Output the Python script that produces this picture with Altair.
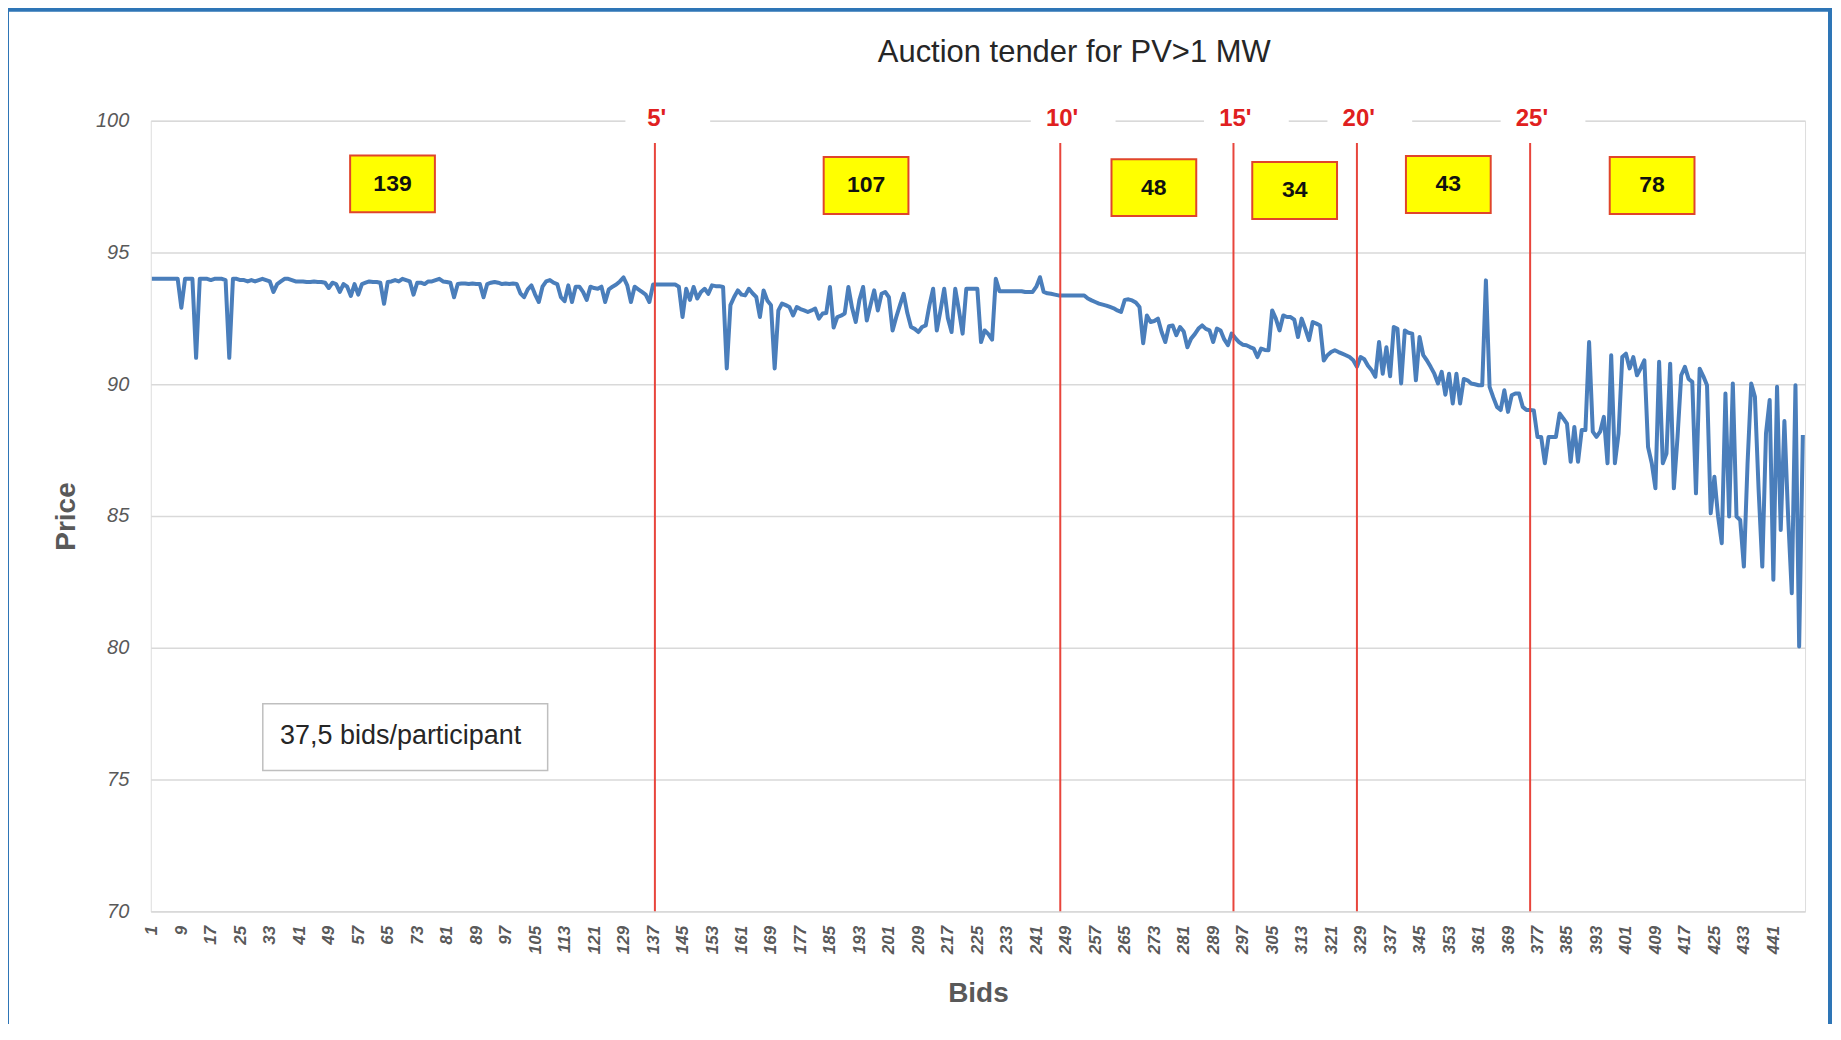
import altair as alt
import pandas as pd

# ---------------- data ----------------
prices_1 = [  # bids 1-112
    94.0, 94.0, 94.0, 94.0, 94.0, 94.0, 94.0, 94.0, 92.9, 94.0,
    94.0, 94.0, 91.0, 94.0, 94.0, 94.0, 93.95, 94.0, 94.0, 94.0,
    93.95, 91.0, 94.0, 94.0, 93.95, 93.95, 93.9, 93.95, 93.9, 93.95,
    94.0, 93.95, 93.9, 93.5, 93.8, 93.9, 94.0, 94.0, 93.95, 93.9,
    93.9, 93.9, 93.88, 93.88, 93.9, 93.88, 93.88, 93.85, 93.65, 93.85,
    93.8, 93.5, 93.8, 93.7, 93.35, 93.8, 93.4, 93.8, 93.85, 93.9,
    93.88, 93.88, 93.85, 93.05, 93.88, 93.9, 93.95, 93.9, 94.0, 93.95,
    93.9, 93.4, 93.85, 93.85, 93.8, 93.9, 93.9, 93.95, 94.0, 93.9,
    93.88, 93.85, 93.3, 93.8, 93.82, 93.82, 93.8, 93.82, 93.8, 93.8,
    93.3, 93.8, 93.85, 93.88, 93.85, 93.8, 93.82, 93.8, 93.82, 93.8,
    93.45, 93.3, 93.6, 93.75, 93.4, 93.12, 93.7, 93.9, 93.95, 93.85,
    93.8, 93.3,
]
prices_2 = [  # bids 113-224
    93.15, 93.75, 93.12, 93.7, 93.7, 93.5, 93.2, 93.7,
    93.65, 93.62, 93.7, 93.12, 93.6, 93.7, 93.78, 93.9, 94.05, 93.75,
    93.12, 93.7, 93.6, 93.5, 93.4, 93.12, 93.78, 93.78, 93.78, 93.78,
    93.78, 93.78, 93.78, 93.7, 92.55, 93.62, 93.2, 93.69, 93.25, 93.5,
    93.62, 93.43, 93.75, 93.72, 93.72, 93.69, 90.6, 93.0, 93.31, 93.56,
    93.4, 93.37, 93.62, 93.45, 93.31, 92.55, 93.56, 93.18, 93.0, 90.6,
    92.8, 93.06, 93.0, 92.93, 92.61, 92.93, 92.85, 92.8, 92.74, 92.8,
    92.87, 92.49, 92.68, 92.7, 93.69, 92.15, 92.55, 92.6, 92.68, 93.69,
    92.9, 92.36, 93.2, 93.69, 92.42, 93.0, 93.56, 92.8, 93.43, 93.5,
    93.3, 92.04, 92.55, 93.0, 93.43, 92.7, 92.17, 92.1, 91.98, 92.17,
    92.23, 93.0, 93.62, 92.04, 92.8, 93.62, 92.5, 91.98, 93.62, 92.8,
    91.92, 93.62, 93.62, 93.62,
]
prices_3 = [  # bids 225-334
    93.62, 91.6, 92.04, 91.9, 91.69, 94.0,
    93.53, 93.53, 93.53, 93.53, 93.53, 93.53, 93.53, 93.5, 93.5, 93.5,
    93.7, 94.06, 93.5, 93.45, 93.43, 93.4, 93.37, 93.37, 93.37, 93.37,
    93.37, 93.37, 93.37, 93.37, 93.25, 93.18, 93.12, 93.06, 93.02, 92.98,
    92.93, 92.88, 92.8, 92.74, 93.2, 93.22, 93.18, 93.1, 92.93, 91.55,
    92.61, 92.36, 92.4, 92.49, 91.98, 91.6, 92.2, 92.23, 91.86, 92.17,
    92.0, 91.4, 91.73, 91.9, 92.11, 92.23, 92.1, 92.04, 91.6, 92.11,
    92.04, 91.7, 91.48, 91.92, 91.75, 91.6, 91.5, 91.48, 91.41, 91.35,
    91.03, 91.35, 91.3, 91.29, 92.8, 92.49, 92.04, 92.61, 92.55, 92.55,
    92.45, 91.79, 92.49, 92.1, 91.67, 92.36, 92.3, 92.23, 90.9, 91.1,
    91.22, 91.29, 91.22, 91.16, 91.1, 91.03, 90.91, 90.66, 91.03, 90.95,
    90.7, 90.53, 90.28, 91.6,
]
prices_4 = [  # bids 335-449
    90.4, 91.4, 90.3, 92.17, 92.1, 90.03,
    92.04, 91.95, 91.92, 90.15, 91.79, 91.1, 90.9, 90.66, 90.4, 90.03,
    90.47, 89.6, 90.4, 89.27, 90.4, 89.27, 90.2, 90.15, 90.03, 90.0,
    89.96, 89.96, 93.94, 89.9, 89.5, 89.14, 89.02, 89.77, 88.95, 89.58,
    89.65, 89.65, 89.14, 89.02, 89.02, 89.0, 88.0, 88.0, 87.0, 88.0,
    88.0, 88.0, 88.89, 88.7, 88.5, 87.06, 88.38, 87.06, 88.26, 88.26,
    91.6, 88.2, 88.0, 88.2, 88.76, 87.0, 91.1, 87.0, 88.13, 91.03,
    91.16, 90.6, 91.03, 90.34, 90.6, 90.91, 87.62, 87.0, 86.05, 90.85,
    87.0, 87.37, 90.78, 86.05, 88.0, 90.34, 90.66, 90.2, 90.09, 85.86,
    90.59, 90.3, 89.96, 85.1, 86.49, 84.98, 83.97, 89.65, 84.98, 90.03,
    84.98, 84.85, 83.08, 87.0, 90.03, 89.52, 86.0, 83.08, 88.13, 89.4,
    82.58, 89.9, 84.47, 88.6, 85.0, 82.07, 89.96, 80.05, 88.07,
]
prices = prices_1 + prices_2 + prices_3 + prices_4
bids = list(range(1, len(prices) + 1))

# time marks (minutes) and where they fall along the bid sequence
time_labels = ["5'", "10'", "15'", "20'", "25'"]
time_bids = [137.5, 247.5, 294.5, 328, 375]

# number of bids in each time window
window_counts = ["139", "107", "48", "34", "43", "78"]
window_label_bid = [66.3, 194.8, 272.9, 311.1, 352.8, 408.1]
window_label_price = [97.6, 97.54, 97.46, 97.35, 97.58, 97.54]

note_text = "37,5 bids/participant"
title_text = "Auction tender for PV>1 MW"
x_tick_values = list(range(1, 449, 8))
y_tick_values = [70, 75, 80, 85, 90, 95, 100]

# ---------------- tables ----------------
df_line = pd.DataFrame({"bid": bids, "price": prices})
df_rules = pd.DataFrame({
    "bid": time_bids, "label": time_labels,
    "price": [70] * len(time_bids), "price2": [99.15] * len(time_bids),
})
df_rules["lab_bid"] = df_rules["bid"] + 0.5
df_rules["lab_price"] = [100.05] * len(time_bids)
df_rules["gap_x"] = df_rules["bid"] - 8
df_rules["gap_x2"] = df_rules["bid"] + 15
df_rules["gap_y"] = [99.45] * len(time_bids)
df_rules["gap_y2"] = [100.55] * len(time_bids)

df_box = pd.DataFrame({"bid": window_label_bid, "price": window_label_price, "label": window_counts})
df_box["x1"] = df_box["bid"] - 11.5
df_box["x2"] = df_box["bid"] + 11.5
df_box["y1"] = df_box["price"] - 1.08
df_box["y2"] = df_box["price"] + 1.08

df_note = pd.DataFrame({"x1": [31.1], "x2": [108.4], "y1": [75.34], "y2": [77.88],
                        "tx": [35.8], "ty": [76.65], "label": [note_text]})
df_one = pd.DataFrame({"k": [0]})

# ---------------- scales / axes ----------------
FONT = "Liberation Sans"
xs = alt.Scale(domain=[0.7, 449.6], nice=False, zero=False)
ys = alt.Scale(domain=[70, 100], nice=False, zero=False)

x_axis = alt.Axis(values=x_tick_values, grid=False, domain=True, domainColor="#D9D9D9",
                  domainWidth=1.5, ticks=False, labelAngle=270, labelFont=FONT,
                  labelFontSize=17, labelFontStyle="italic", labelFontWeight="bold",
                  labelColor="#595959", labelPadding=14, labelOverlap=False, labelFlush=False,
                  titleFont=FONT, titleFontSize=28, titleFontWeight="bold",
                  titleColor="#595959", titleY=82, titleBaseline="middle")
y_axis = alt.Axis(values=y_tick_values, grid=True, gridColor="#D9D9D9", gridWidth=1.5,
                  domain=False, ticks=False, labelFont=FONT, labelFontSize=20,
                  labelFontStyle="italic", labelColor="#595959", labelPadding=22,
                  titleFont=FONT, titleFontSize=28, titleFontWeight="bold",
                  titleColor="#595959", titleX=-84, titleY=396, titleAngle=270,
                  titleAlign="center", titleBaseline="middle")


def X(field):
    return alt.X(f"{field}:Q", scale=xs, axis=x_axis, title="Bids")


def Y(field):
    return alt.Y(f"{field}:Q", scale=ys, axis=y_axis, title="Price")


line = alt.Chart(df_line).mark_line(color="#4A7EBB", strokeWidth=4, strokeJoin="round").encode(
    x=X("bid"), y=Y("price"))

rules = alt.Chart(df_rules).mark_rule(color="#E8453C", strokeWidth=2).encode(
    x=X("bid"), y=Y("price"), y2="price2:Q")

gaps = alt.Chart(df_rules).mark_rect(fill="white").encode(
    x=X("gap_x"), x2="gap_x2:Q", y=Y("gap_y"), y2="gap_y2:Q")

rule_labels = alt.Chart(df_rules).mark_text(
    color="#E02020", fontWeight="bold", fontSize=24, font=FONT, baseline="middle", align="center"
).encode(x=X("lab_bid"), y=Y("lab_price"), text="label:N")

boxes = alt.Chart(df_box).mark_rect(fill="#FFFF00", stroke="#E0452B", strokeWidth=2).encode(
    x=X("x1"), x2="x2:Q", y=Y("y1"), y2="y2:Q")

box_text = alt.Chart(df_box).mark_text(
    color="#111111", fontWeight="bold", fontSize=23, font=FONT, baseline="middle", align="center"
).encode(x=X("bid"), y=Y("price"), text="label:N")

note_box = alt.Chart(df_note).mark_rect(fill="white", stroke="#BFBFBF", strokeWidth=1.5).encode(
    x=X("x1"), x2="x2:Q", y=Y("y1"), y2="y2:Q")

note = alt.Chart(df_note).mark_text(
    color="#262626", fontSize=27, font=FONT, baseline="middle", align="left"
).encode(x=X("tx"), y=Y("ty"), text="label:N")

title = alt.Chart(df_one).mark_text(
    text=title_text, fontSize=31, font=FONT, color="#262626", align="center", baseline="alphabetic"
).encode(x=alt.value(925), y=alt.value(-59))

frame = alt.Chart(df_one).mark_rect(fillOpacity=0, stroke="#2E75B6", strokeWidth=4).encode(
    x=alt.value(-144), x2=alt.value(1682), y=alt.value(-111), y2=alt.value(1000))

chart = alt.layer(
    gaps, line, rules, rule_labels, boxes, box_text, note_box, note, title, frame
).properties(
    width=1657, height=792,
    autosize=alt.AutoSizeParams(type="none"),
    padding={"left": 143, "top": 112, "right": 28, "bottom": 112},
).configure_view(strokeWidth=0).configure(background="white")

chart.save("out.html", embed_options={"renderer": "svg", "actions": False})
